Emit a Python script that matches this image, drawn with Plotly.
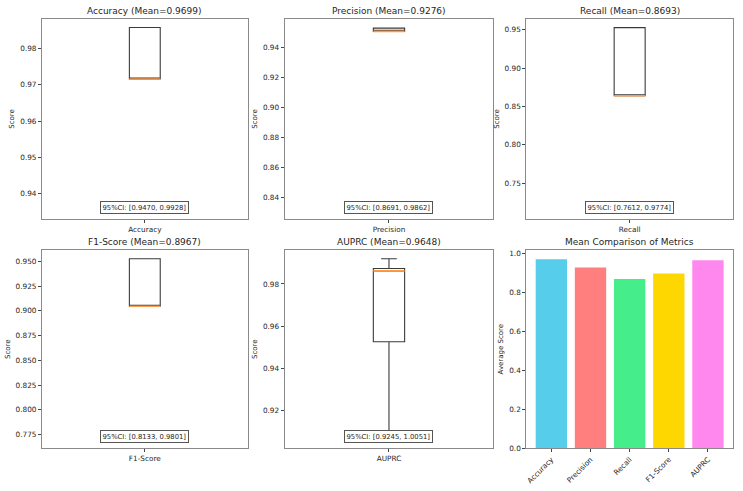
import plotly.graph_objects as go

metrics = ["Accuracy", "Precision", "Recall", "F1-Score", "AUPRC"]
means = [0.9699, 0.9276, 0.8693, 0.8967, 0.9648]
ci_low = [0.9470, 0.8691, 0.7612, 0.8133, 0.9245]
ci_high = [0.9928, 0.9862, 0.9774, 0.9801, 1.0051]
q1 = [0.9716, 0.9505, 0.8638, 0.9047, 0.9527]
median = [0.9716, 0.9505, 0.8638, 0.9047, 0.9862]
q3 = [0.9858, 0.9527, 0.9526, 0.9526, 0.9873]
lower_fence = [0.9716, 0.9505, 0.8638, 0.9047, 0.9065]
upper_fence = [0.9858, 0.9527, 0.9526, 0.9526, 0.9919]
y_ranges = [[0.9329, 0.9882], [0.8255, 0.9589], [0.7027, 0.9642], [0.7611, 0.9615], [0.9022, 0.9961]]
y_dticks = [0.01, 0.02, 0.05, 0.025, 0.02]
y_formats = [".2f", ".2f", ".2f", ".3f", ".2f"]
bar_colors = ["#56CDEB", "#FF7F7F", "#45EE8A", "#FFD700", "#FF88EE"]

W, H = 743, 491
col_px = [(41, 247), (284, 493), (526, 733)]
row_px = [(18, 221), (252, 453)]

def xdom(c):
    return [col_px[c][0] / W, col_px[c][1] / W]

def ydom(r):
    return [1 - row_px[r][1] / H, 1 - row_px[r][0] / H]

fig = go.Figure()
font = "DejaVu Sans, Arial, sans-serif"
txt = "#262626"
frame = "#8a8a8a"
box_w = 0.15

positions = [(0, 0), (0, 1), (0, 2), (1, 0), (1, 1)]
annotations = []
for i, m in enumerate(metrics):
    r, c = positions[i]
    n = i + 1
    xa = "x" if n == 1 else f"x{n}"
    ya = "y" if n == 1 else f"y{n}"
    fig.add_trace(go.Box(
        x=[1], q1=[q1[i]], median=[median[i]], q3=[q3[i]],
        lowerfence=[lower_fence[i]], upperfence=[upper_fence[i]],
        width=box_w, whiskerwidth=0.5, fillcolor="white",
        line=dict(color="#3a3a3a", width=1.1), boxpoints=False,
        xaxis=xa, yaxis=ya, showlegend=False, hoverinfo="skip"))
    fig.add_trace(go.Scatter(
        x=[1 - box_w / 2, 1 + box_w / 2], y=[median[i], median[i]],
        mode="lines", line=dict(color="#FF9A45", width=1.6),
        xaxis=xa, yaxis=ya, showlegend=False, hoverinfo="skip"))
    axis_common = dict(showline=True, mirror=True, linecolor=frame, linewidth=1,
                       ticks="outside", ticklen=3, tickcolor="#444", showgrid=False,
                       zeroline=False, tickfont=dict(size=7.3, color=txt, family=font))
    fig.update_layout(**{
        ("xaxis" if n == 1 else f"xaxis{n}"): dict(
            domain=xdom(c), anchor=ya, range=[0.5, 1.5], tickvals=[1], ticktext=[m], **axis_common),
        ("yaxis" if n == 1 else f"yaxis{n}"): dict(
            domain=ydom(r), anchor=xa, range=y_ranges[i], dtick=y_dticks[i], tickformat=y_formats[i],
            title=dict(text="Score", font=dict(size=7, color=txt, family=font), standoff=4),
            **axis_common),
    })
    annotations.append(dict(
        text=f"{m} (Mean={means[i]:.4f})", xref="paper", yref="paper",
        x=sum(xdom(c)) / 2, xanchor="center", y=ydom(r)[1], yanchor="bottom", yshift=1,
        showarrow=False, font=dict(size=9, color=txt, family=font)))
    annotations.append(dict(
        text=f"95%CI: [{ci_low[i]:.4f}, {ci_high[i]:.4f}]",
        xref=f"{xa} domain", yref=f"{ya} domain", x=0.5, xanchor="center",
        y=0.058, yanchor="middle", showarrow=False,
        font=dict(size=6.8, color=txt, family=font), bgcolor="white",
        bordercolor="#555", borderwidth=1, borderpad=1.5))

# Bar chart
fig.add_trace(go.Bar(
    x=list(range(len(metrics))), y=means, marker=dict(color=bar_colors, line=dict(width=0)),
    width=0.8, xaxis="x6", yaxis="y6", showlegend=False, hoverinfo="skip"))
axis_common = dict(showline=True, mirror=True, linecolor=frame, linewidth=1,
                   ticks="outside", ticklen=3, tickcolor="#444", showgrid=False,
                   zeroline=False, tickfont=dict(size=7.3, color=txt, family=font))
fig.update_layout(
    xaxis6=dict(domain=xdom(2), anchor="y6", range=[-0.64, 4.64],
                tickvals=list(range(len(metrics))), ticktext=metrics, tickangle=-45, **axis_common),
    yaxis6=dict(domain=ydom(1), anchor="x6", range=[0, 1.018], dtick=0.2, tickformat=".1f",
                title=dict(text="Average Score", font=dict(size=7, color=txt, family=font), standoff=4),
                **axis_common),
)
annotations.append(dict(
    text="Mean Comparison of Metrics", xref="paper", yref="paper",
    x=sum(xdom(2)) / 2, xanchor="center", y=ydom(1)[1], yanchor="bottom", yshift=1,
    showarrow=False, font=dict(size=9, color=txt, family=font)))

fig.update_layout(
    width=W, height=H, margin=dict(l=0, r=0, t=0, b=0),
    paper_bgcolor="white", plot_bgcolor="white",
    annotations=annotations, font=dict(family=font),
)
fig.write_html("out.html")
